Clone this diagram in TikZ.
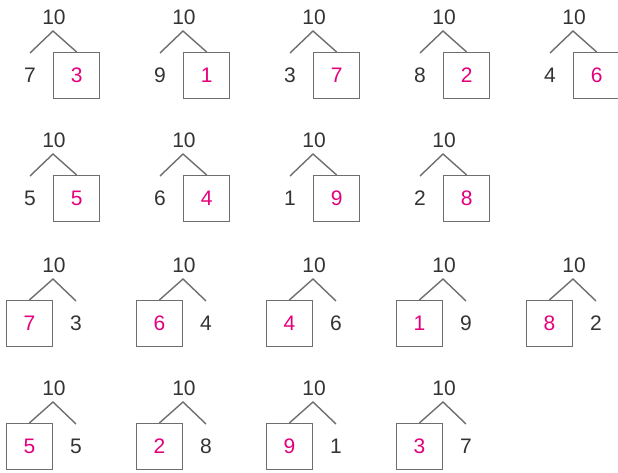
\documentclass[tikz,border=0pt]{standalone}
\usepackage{fontspec}
\setmainfont{Liberation Sans}
\usetikzlibrary{positioning}
\definecolor{pinknum}{HTML}{E4007C}
\definecolor{linegray}{HTML}{6E6E6E}
\definecolor{digitgray}{HTML}{333333}

\begin{document}
\begin{tikzpicture}[x=1pt, y=-1pt,
    digit/.style={inner sep=0pt, font=\fontsize{21}{25}\selectfont, text=digitgray},
    numbox/.style={draw=linegray, line width=1.3pt, minimum size=46pt, inner sep=0pt,
      font=\fontsize{21}{25}\selectfont, text=pinknum},
    branch/.style={draw=linegray, line width=1.4pt}]
  \useasboundingbox (0,0) rectangle (618,473);
  % rows 1 and 2: box on the right
  \foreach \x/\y/\n/\b [count=\i] in {53/31/7/3, 183/31/9/1, 313/31/3/7, 443/31/8/2, 573/31/4/6,
      53/154/5/5, 183/154/6/4, 313/154/1/9, 443/154/2/8}{
    \coordinate (a\i) at (\x,\y);
    \coordinate (e\i) at (\x-23,\y+22);
    \node[digit, above=6pt of a\i, xshift=1pt] (t\i) {10};
    \node[numbox, below right=21pt and 0pt of a\i] (b\i) {\b};
    \node[digit] (n\i) at (\x-23,\y+44) {\n};
    \draw[branch] (e\i) -- (a\i) -- (b\i.north);
  }
  % rows 3 and 4: box on the left
  \foreach \x/\y/\b/\n [count=\i] in {53/279/7/3, 183/279/6/4, 313/279/4/6, 443/279/1/9, 573/279/8/2,
      53/402/5/5, 183/402/2/8, 313/402/9/1, 443/402/3/7}{
    \coordinate (la\i) at (\x,\y);
    \coordinate (le\i) at (\x+23,\y+22);
    \node[digit, above=6pt of la\i, xshift=1pt] (lt\i) {10};
    \node[numbox, below left=21pt and 0pt of la\i] (lb\i) {\b};
    \node[digit] (ln\i) at (\x+23,\y+44) {\n};
    \draw[branch] (lb\i.north) -- (la\i) -- (le\i);
  }
\end{tikzpicture}
\end{document}
